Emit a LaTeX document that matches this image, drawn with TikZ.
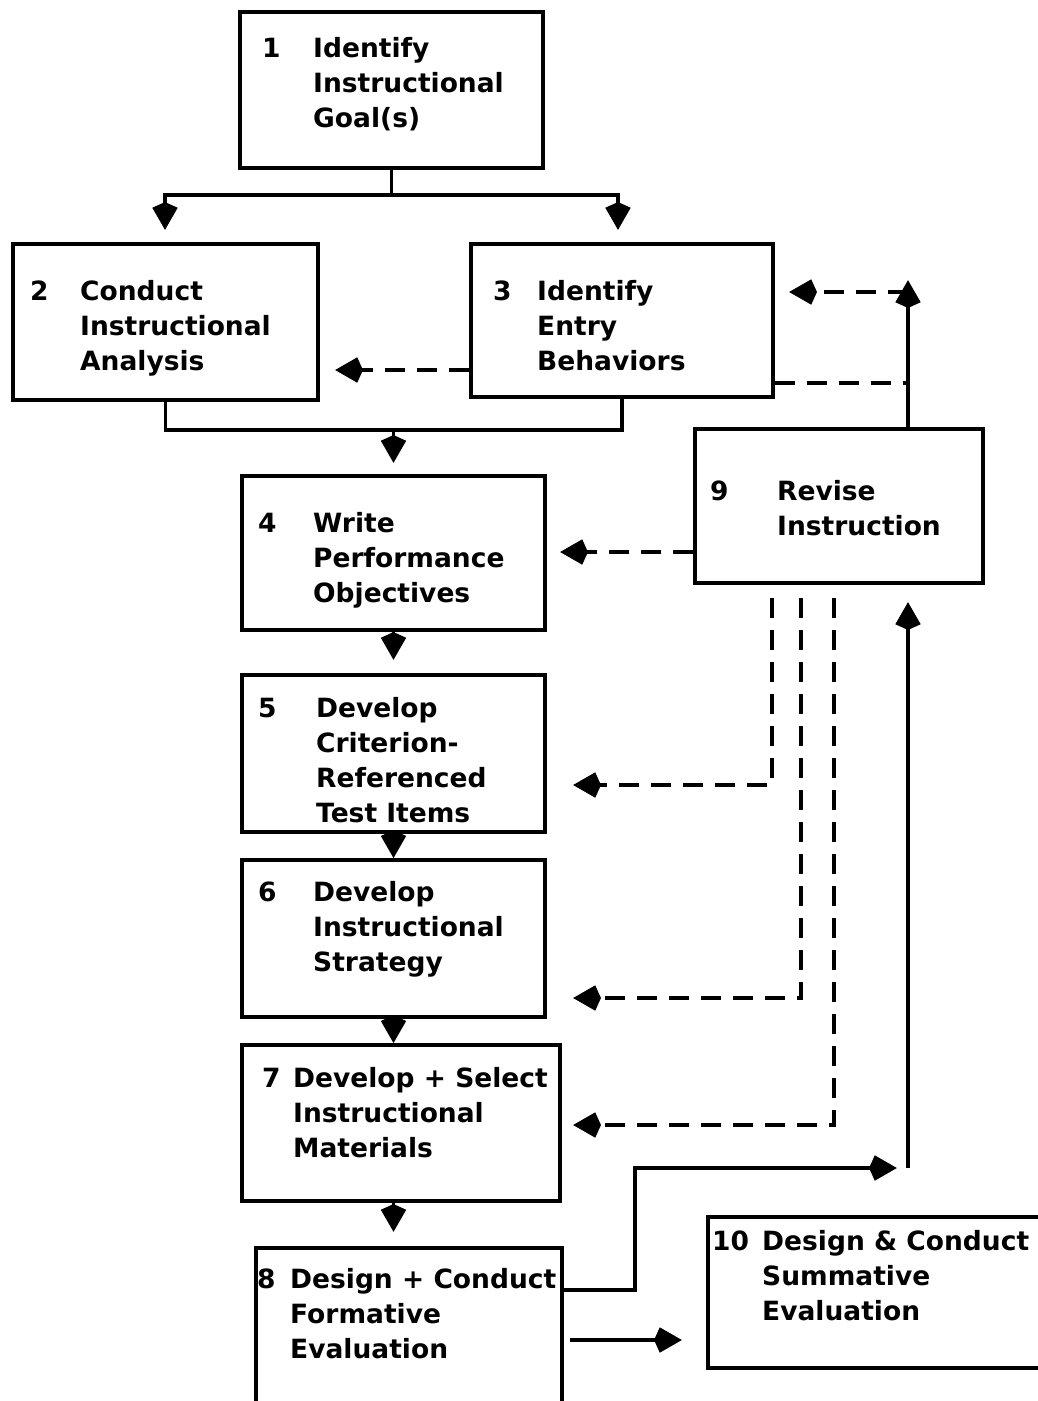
\documentclass[tikz,border=0pt]{standalone}
\usepackage{fontspec}
\setmainfont{DejaVu Sans}
\usetikzlibrary{arrows.meta,fit,calc}
% stacked lines of a stage label, baseline on the first line
\newcommand{\boxlines}[1]{\begin{tabular}[t]{@{}l@{}}#1\end{tabular}}

\begin{document}
\begin{tikzpicture}[x=1pt,y=-1pt,
  stagebox/.style={draw, line width=3.6pt, inner sep=0pt},
  lbl/.style={anchor=base west, inner sep=0pt, font=\bfseries\fontsize{26.5}{35}\selectfont},
  flow/.style={line width=3.2pt},
  tip/.style={-{Stealth[length=22pt,width=24pt,inset=-6pt]}},
  fb/.style={dash pattern=on 20pt off 12pt}]

\useasboundingbox (0,0) rectangle (1038,1401);

% ---------- stage boxes ----------
\node[stagebox, fit={(240,12) (543,168)}]   (b1)  {};
\node[stagebox, fit={(13,244) (318,400)}]   (b2)  {};
\node[stagebox, fit={(471,244) (773,397)}]  (b3)  {};
\node[stagebox, fit={(242,476) (545,630)}]  (b4)  {};
\node[stagebox, fit={(242,675) (545,832)}]  (b5)  {};
\node[stagebox, fit={(242,860) (545,1017)}] (b6)  {};
\node[stagebox, fit={(242,1045) (560,1201)}] (b7) {};
\node[stagebox, fit={(256,1248) (562,1412)}] (b8) {};
\node[stagebox, fit={(695,429) (983,583)}]  (b9)  {};
\node[stagebox, fit={(708,1217) (1052,1368)}] (b10) {};

% ---------- stage labels ----------
\node[lbl] (n1) at (262,57) {1};
\node[lbl] (t1) at (313,57) {\boxlines{Identify\\Instructional\\Goal(s)}};
\node[lbl] (n2) at (30,300) {2};
\node[lbl] (t2) at (80,300) {\boxlines{Conduct\\Instructional\\Analysis}};
\node[lbl] (n3) at (493,300) {3};
\node[lbl] (t3) at (537,300) {\boxlines{Identify\\Entry\\Behaviors}};
\node[lbl] (n4) at (258,532) {4};
\node[lbl] (t4) at (313,532) {\boxlines{Write\\Performance\\Objectives}};
\node[lbl] (n5) at (258,717) {5};
\node[lbl] (t5) at (316,717) {\boxlines{Develop\\Criterion-\\Referenced\\Test Items}};
\node[lbl] (n6) at (258,901) {6};
\node[lbl] (t6) at (313,901) {\boxlines{Develop\\Instructional\\Strategy}};
\node[lbl] (n7) at (262,1087) {7};
\node[lbl] (t7) at (293,1087) {\boxlines{Develop + Select\\Instructional\\Materials}};
\node[lbl] (n8) at (257,1288) {8};
\node[lbl] (t8) at (290,1288) {\boxlines{Design + Conduct\\Formative\\Evaluation}};
\node[lbl] (n9) at (710,500) {9};
\node[lbl] (t9) at (777,500) {\boxlines{Revise\\Instruction}};
\node[lbl] (n10) at (712,1250) {10};
\node[lbl] (t10) at (762,1250) {\boxlines{Design \& Conduct\\Summative\\Evaluation}};

% ---------- junction points and free arrow ends ----------
\coordinate (s1)  at (391.5,195);
\coordinate (a2)  at (165,230);
\coordinate (a3)  at (618,230);
\coordinate (m23) at (393.5,430);
\coordinate (a4)  at (393.5,463);
\coordinate (a5)  at (393.5,660);
\coordinate (a8)  at (393.5,1232);
\coordinate (a2e) at (335,370);
\coordinate (up9) at (908,280);
\coordinate (k9)  at (908,292);
\coordinate (a3e) at (789,292);
\coordinate (j3)  at (908,383);
\coordinate (a4e) at (560,552);
\coordinate (v5)  at (772,598);
\coordinate (v6)  at (801,598);
\coordinate (v7)  at (834,598);
\coordinate (a5e) at (573,785);
\coordinate (a6e) at (573,998);
\coordinate (a7e) at (573,1125);
\coordinate (r8)  at (635,1168);
\coordinate (a9r) at (897,1168);
\coordinate (f9)  at (908,1168);
\coordinate (a9b) at (908,602);
\coordinate (o8)  at (570,1340);
\coordinate (a10) at (682,1340);

% ---------- main sequence ----------
\draw[flow,tip] (b1.south) -- (s1) -| (a2);
\draw[flow,tip] (s1) -| (a3);
\draw[flow] (b2.south) |- (m23);
\draw[flow] (b3.south) |- (m23);
\draw[flow,tip] (m23) -- (a4);
\draw[flow,tip] (b4.south) -- (a5);
\draw[flow,tip] (b5.south) -- (b6.north);
\draw[flow,tip] (b6.south) -- (b6.south |- b7.north);
\draw[flow,tip] (b6.south |- b7.south) -- (a8);

% ---------- entry behaviours feed analysis ----------
\draw[flow,fb,tip] (b3.west |- a2e) -- (a2e);

% ---------- revision loop ----------
\draw[flow,tip] (b9.north -| up9) -- (up9);
\draw[flow,fb,tip] (k9) -- (a3e);
\draw[flow,fb] (b3.east |- j3) -- (j3);
\draw[flow,fb,tip] (b9.west |- a4e) -- (a4e);
\draw[flow,fb,tip] (v5) |- (a5e);
\draw[flow,fb,tip] (v6) |- (a6e);
\draw[flow,fb,tip] (v7) |- (a7e);

% ---------- formative evaluation outputs ----------
\draw[flow,tip] (b8.east |- 0,1290) -| (r8) -- (a9r);
\draw[flow,tip] (f9) -- (a9b);
\draw[flow,tip] (o8) -- (a10);
\end{tikzpicture}
\end{document}
